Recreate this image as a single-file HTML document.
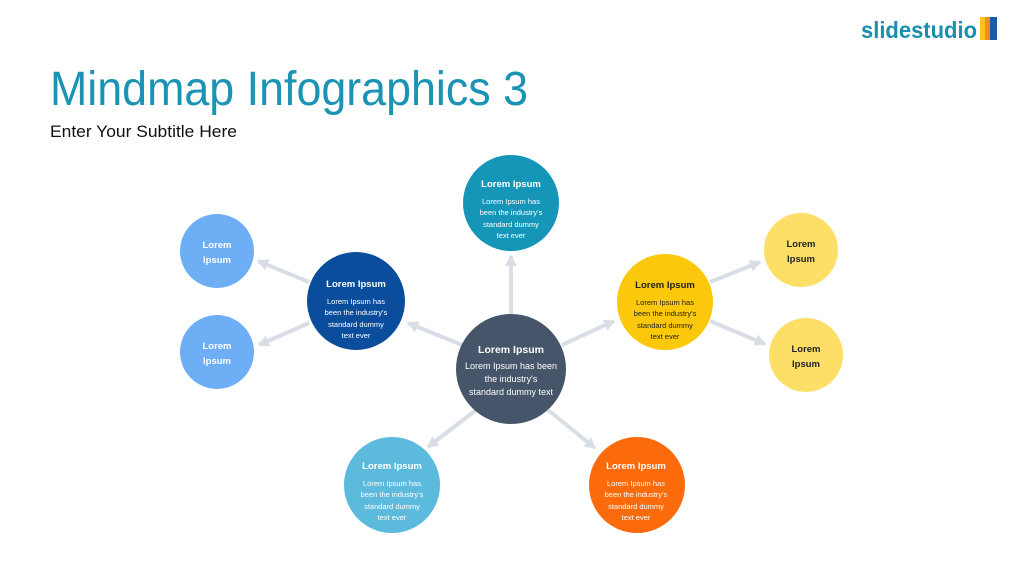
<!DOCTYPE html>
<html><head><meta charset="utf-8"><style>
html,body{margin:0;padding:0;background:#fff;width:1024px;height:576px;overflow:hidden}
svg{display:block}
text{font-family:"Liberation Sans",sans-serif}
</style></head><body>
<svg width="1024" height="576" viewBox="0 0 1024 576">
<defs>
<marker id="ah" markerUnits="userSpaceOnUse" markerWidth="14" markerHeight="14" refX="10" refY="7" orient="auto">
<path d="M0,1 L11,7 L0,13 Z" fill="#d9dde6"/>
</marker>
</defs>
<!-- logo -->
<text x="861" y="38" font-size="23" font-weight="bold" fill="#1a8fb0" textLength="116" lengthAdjust="spacingAndGlyphs">slidestudio</text>
<rect x="980" y="17" width="5" height="23" fill="#ffc21a"/>
<rect x="985" y="17" width="5" height="23" fill="#f28a1c"/>
<rect x="990" y="17" width="7" height="23" fill="#1d5aa8"/>
<!-- title -->
<text x="50" y="105" font-size="48" fill="#1a93b4" textLength="478" lengthAdjust="spacingAndGlyphs">Mindmap Infographics 3</text>
<text x="50" y="137" font-size="17" fill="#111" textLength="187" lengthAdjust="spacingAndGlyphs">Enter Your Subtitle Here</text>
<!-- arrows -->
<g stroke="#d9dde6" stroke-width="4" marker-end="url(#ah)">
<line x1="511" y1="316" x2="511" y2="256"/>
<line x1="462" y1="345" x2="408" y2="323"/>
<line x1="562" y1="345" x2="614" y2="321"/>
<line x1="476" y1="410" x2="428" y2="447"/>
<line x1="548" y1="410" x2="595" y2="448"/>
<line x1="309" y1="282" x2="258" y2="261"/>
<line x1="309" y1="323" x2="259" y2="345"/>
<line x1="710" y1="282" x2="760" y2="262"/>
<line x1="710" y1="321" x2="765" y2="344"/>
</g>
<!-- circles -->
<circle cx="511" cy="369" r="55" fill="#465569"/>
<circle cx="511" cy="203" r="48" fill="#1596b8"/>
<circle cx="356" cy="301" r="49" fill="#0a4d9c"/>
<circle cx="665" cy="302" r="48" fill="#fbc80b"/>
<circle cx="392" cy="485" r="48" fill="#5cbbdd"/>
<circle cx="637" cy="485" r="48" fill="#fb6a0b"/>
<circle cx="217" cy="251" r="37" fill="#6daef4"/>
<circle cx="217" cy="352" r="37" fill="#6daef4"/>
<circle cx="801" cy="250" r="37" fill="#fddf68"/>
<circle cx="806" cy="355" r="37" fill="#fddf68"/>
<!-- texts -->
<g text-anchor="middle" fill="#fff">
<text x="511" y="353" font-size="10.5" font-weight="bold">Lorem Ipsum</text>
<text x="511" y="369" font-size="9">Lorem Ipsum has been</text>
<text x="511" y="382" font-size="9">the industry's</text>
<text x="511" y="395" font-size="9">standard dummy text</text>

<g font-size="7.5">
<text x="511" y="187" font-size="9.5" font-weight="bold">Lorem Ipsum</text>
<text x="511" y="204">Lorem Ipsum has</text>
<text x="511" y="215">been the industry's</text>
<text x="511" y="227">standard dummy</text>
<text x="511" y="238">text ever</text>

<text x="356" y="287" font-size="9.5" font-weight="bold">Lorem Ipsum</text>
<text x="356" y="304">Lorem Ipsum has</text>
<text x="356" y="315">been the industry's</text>
<text x="356" y="327">standard dummy</text>
<text x="356" y="338">text ever</text>

<text x="392" y="469" font-size="9.5" font-weight="bold">Lorem Ipsum</text>
<text x="392" y="486">Lorem Ipsum has</text>
<text x="392" y="497">been the industry's</text>
<text x="392" y="509">standard dummy</text>
<text x="392" y="520">text ever</text>

<text x="636" y="469" font-size="9.5" font-weight="bold">Lorem Ipsum</text>
<text x="636" y="486">Lorem Ipsum has</text>
<text x="636" y="497">been the industry's</text>
<text x="636" y="509">standard dummy</text>
<text x="636" y="520">text ever</text>
</g>
<g font-size="9.5" font-weight="bold">
<text x="217" y="248">Lorem</text>
<text x="217" y="263">Ipsum</text>
<text x="217" y="349">Lorem</text>
<text x="217" y="364">Ipsum</text>
</g>
</g>
<g text-anchor="middle" fill="#222">
<text x="665" y="288" font-size="9.5" font-weight="bold">Lorem Ipsum</text>
<g font-size="7.5">
<text x="665" y="305">Lorem Ipsum has</text>
<text x="665" y="316">been the industry's</text>
<text x="665" y="328">standard dummy</text>
<text x="665" y="339">text ever</text>
</g>
<g font-size="9.5" font-weight="bold">
<text x="801" y="247">Lorem</text>
<text x="801" y="262">Ipsum</text>
<text x="806" y="352">Lorem</text>
<text x="806" y="367">Ipsum</text>
</g>
</g>
</svg>
</body></html>
